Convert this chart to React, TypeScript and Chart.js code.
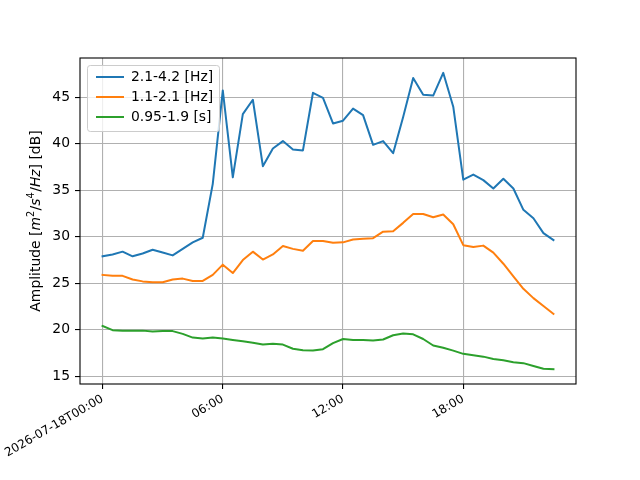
import React, { useEffect, useRef } from "react";
import { Chart, registerables } from "chart.js";

Chart.register(...registerables);

const FONT = "'DejaVu Sans', sans-serif";

const times = [
  "00:00", "00:30", "01:00", "01:30", "02:00", "02:30", "03:00", "03:30",
  "04:00", "04:30", "05:00", "05:30", "06:00", "06:30", "07:00", "07:30",
  "08:00", "08:30", "09:00", "09:30", "10:00", "10:30", "11:00", "11:30",
  "12:00", "12:30", "13:00", "13:30", "14:00", "14:30", "15:00", "15:30",
  "16:00", "16:30", "17:00", "17:30", "18:00", "18:30", "19:00", "19:30",
  "20:00", "20:30", "21:00", "21:30", "22:00", "22:30",
];

const band1 = [
  27.9, 28.1, 28.4, 27.9, 28.2, 28.6, 28.3, 28.0, 28.7, 29.4, 29.9, 35.7,
  45.75, 36.4, 43.2, 44.75, 37.6, 39.5, 40.3, 39.4, 39.3, 45.5, 44.95, 42.2,
  42.5, 43.8, 43.1, 39.9, 40.3, 39.0, 42.9, 47.1, 45.3, 45.2, 47.65, 44.0,
  36.15, 36.7, 36.1, 35.2, 36.25, 35.2, 32.9, 32.0, 30.4, 29.65,
];

const band2 = [
  25.9, 25.8, 25.8, 25.4, 25.2, 25.1, 25.1, 25.4, 25.5, 25.25, 25.25, 25.9,
  27.0, 26.1, 27.5, 28.4, 27.55, 28.1, 29.0, 28.7, 28.5, 29.55, 29.55, 29.35,
  29.4, 29.7, 29.8, 29.85, 30.55, 30.6, 31.5, 32.45, 32.45, 32.1, 32.4, 31.35,
  29.1, 28.9, 29.05, 28.3, 27.1, 25.75, 24.4, 23.4, 22.55, 21.7,
];

const band3 = [
  20.4, 19.95, 19.9, 19.9, 19.9, 19.8, 19.85, 19.85, 19.55, 19.15, 19.05, 19.15,
  19.05, 18.9, 18.75, 18.6, 18.4, 18.5, 18.4, 17.95, 17.8, 17.75, 17.9, 18.55,
  19.0, 18.9, 18.9, 18.85, 18.95, 19.4, 19.6, 19.5, 19.0, 18.3, 18.05, 17.75,
  17.4, 17.25, 17.1, 16.85, 16.7, 16.5, 16.4, 16.1, 15.8, 15.75,
];

const seriesLabels = ["2.1-4.2 [Hz]", "1.1-2.1 [Hz]", "0.95-1.9 [s]"];
const seriesColors = ["#1f77b4", "#ff7f0e", "#2ca02c"];

const xTickValues = [0, 6, 12, 18];
const xTickLabels = ["2026-07-18T00:00", "06:00", "12:00", "18:00"];
const yTickValues = [15, 20, 25, 30, 35, 40, 45];

type Part = { text: string; italic?: boolean; sup?: boolean };
const yTitleParts: Part[] = [
  { text: "Amplitude [" },
  { text: "m", italic: true },
  { text: "2", sup: true },
  { text: "/" },
  { text: "s", italic: true },
  { text: "4", sup: true },
  { text: "/" },
  { text: "Hz", italic: true },
  { text: "] [dB]" },
];

const hours = times.map((t) => {
  const [h, m] = t.split(":").map(Number);
  return h + m / 60;
});

const allSeries = [band1, band2, band3];
const allY = allSeries.flat();
const xLo = Math.min(...hours);
const xHi = Math.max(...hours);
const yLo = Math.min(...allY);
const yHi = Math.max(...allY);
const xMin = xLo - 0.05 * (xHi - xLo);
const xMax = xHi + 0.05 * (xHi - xLo);
const yMin = yLo - 0.05 * (yHi - yLo);
const yMax = yHi + 0.05 * (yHi - yLo);

const framePlugin = {
  id: "frame",
  afterDatasetsDraw(chart: any) {
    const { ctx, chartArea } = chart;
    ctx.save();
    ctx.strokeStyle = "#000";
    ctx.lineWidth = 1.1;
    ctx.strokeRect(chartArea.left, chartArea.top, chartArea.right - chartArea.left, chartArea.bottom - chartArea.top);
    ctx.restore();
  },
};

function measureParts(ctx: CanvasRenderingContext2D, fontFor: (p: Part) => string) {
  return yTitleParts.map((p) => {
    ctx.font = fontFor(p);
    return ctx.measureText(p.text).width + (p.sup ? 0.5 : 0);
  });
}

const yTitlePlugin = {
  id: "ytitle",
  afterDraw(chart: any) {
    const { ctx, chartArea } = chart;
    const size = 13.9;
    const supSize = size * 0.7;
    const fontFor = (p: Part) =>
      `${p.italic ? "italic " : ""}${p.sup ? supSize : size}px ${FONT}`;
    ctx.save();
    const cy = (chartArea.top + chartArea.bottom) / 2;
    ctx.translate(40, cy);
    ctx.rotate(-Math.PI / 2);
    ctx.fillStyle = "#000";
    ctx.textBaseline = "alphabetic";
    ctx.textAlign = "left";
    const widths = measureParts(ctx, fontFor);
    const total = widths.reduce((a, b) => a + b, 0);
    let x = -total / 2;
    yTitleParts.forEach((p, i) => {
      ctx.font = fontFor(p);
      ctx.fillText(p.text, x, p.sup ? -5.6 : 0);
      x += widths[i];
    });
    ctx.restore();
  },
};

const legendPlugin = {
  id: "boxlegend",
  afterDraw(chart: any) {
    const { ctx } = chart;
    const bx = 87.5, by = 65.5, bw = 132, bh = 66, r = 2.8;
    ctx.save();
    ctx.beginPath();
    ctx.moveTo(bx + r, by);
    ctx.lineTo(bx + bw - r, by);
    ctx.arcTo(bx + bw, by, bx + bw, by + r, r);
    ctx.lineTo(bx + bw, by + bh - r);
    ctx.arcTo(bx + bw, by + bh, bx + bw - r, by + bh, r);
    ctx.lineTo(bx + r, by + bh);
    ctx.arcTo(bx, by + bh, bx, by + bh - r, r);
    ctx.lineTo(bx, by + r);
    ctx.arcTo(bx, by, bx + r, by, r);
    ctx.closePath();
    ctx.fillStyle = "rgba(255,255,255,0.8)";
    ctx.fill();
    ctx.strokeStyle = "#cccccc";
    ctx.lineWidth = 1;
    ctx.stroke();
    chart.data.datasets.forEach((ds: any, i: number) => {
      const y = 77 + i * 20;
      ctx.beginPath();
      ctx.strokeStyle = ds.borderColor;
      ctx.lineWidth = 2;
      ctx.moveTo(96, y);
      ctx.lineTo(124, y);
      ctx.stroke();
      ctx.fillStyle = "#000";
      ctx.font = `13.9px ${FONT}`;
      ctx.textBaseline = "middle";
      ctx.textAlign = "left";
      ctx.fillText(ds.label, 131, y + 0.5);
    });
    ctx.restore();
  },
};

export default function App() {
  const ref = useRef<HTMLCanvasElement>(null);
  useEffect(() => {
    const canvas = ref.current;
    if (!canvas) return;
    const chart = new Chart(canvas, {
      type: "line",
      data: {
        datasets: allSeries.map((s, k) => ({
          label: seriesLabels[k],
          data: hours.map((h, i) => ({ x: h, y: s[i] })),
          borderColor: seriesColors[k],
          backgroundColor: seriesColors[k],
          borderWidth: 2,
          pointRadius: 0,
          tension: 0,
          fill: false,
          borderJoinStyle: "round",
          borderCapStyle: "square",
        })),
      },
      options: {
        animation: false,
        responsive: false,
        maintainAspectRatio: false,
        layout: { padding: { top: 58, right: 64, left: 0, bottom: 0 } },
        plugins: {
          legend: { display: false },
          tooltip: { enabled: false },
          title: { display: false },
        },
        scales: {
          x: {
            type: "linear",
            min: xMin,
            max: xMax,
            afterBuildTicks: (s: any) => {
              s.ticks = xTickValues.map((v) => ({ value: v }));
            },
            afterFit: (s: any) => {
              s.height = 96;
              s.paddingLeft = 0;
              s.paddingRight = 0;
            },
            ticks: {
              autoSkip: false,
              minRotation: 30,
              maxRotation: 30,
              padding: 3,
              color: "#000",
              font: { size: 12, family: FONT },
              callback: (_v: any, i: number) => xTickLabels[i],
            },
            grid: {
              color: "#b0b0b0",
              lineWidth: 1.1,
              tickColor: "#000",
              tickLength: 5,
              tickWidth: 1.1,
            },
            border: { display: false },
          },
          y: {
            type: "linear",
            min: yMin,
            max: yMax,
            afterBuildTicks: (s: any) => {
              s.ticks = yTickValues.map((v) => ({ value: v }));
            },
            afterFit: (s: any) => {
              s.width = 80;
              s.paddingTop = 0;
              s.paddingBottom = 0;
            },
            ticks: {
              padding: 5,
              color: "#000",
              font: { size: 13.9, family: FONT },
              callback: (v: any) => String(v),
            },
            grid: {
              color: "#b0b0b0",
              lineWidth: 1.1,
              tickColor: "#000",
              tickLength: 5,
              tickWidth: 1.1,
            },
            border: { display: false },
          },
        },
      },
      plugins: [framePlugin, yTitlePlugin, legendPlugin],
    } as any);
    return () => chart.destroy();
  }, []);
  return (
    <div style={{ position: "absolute", left: 0, top: 0, width: 640, height: 480, background: "#fff" }}>
      <canvas ref={ref} width={640} height={480} style={{ display: "block", width: 640, height: 480 }} />
    </div>
  );
}
